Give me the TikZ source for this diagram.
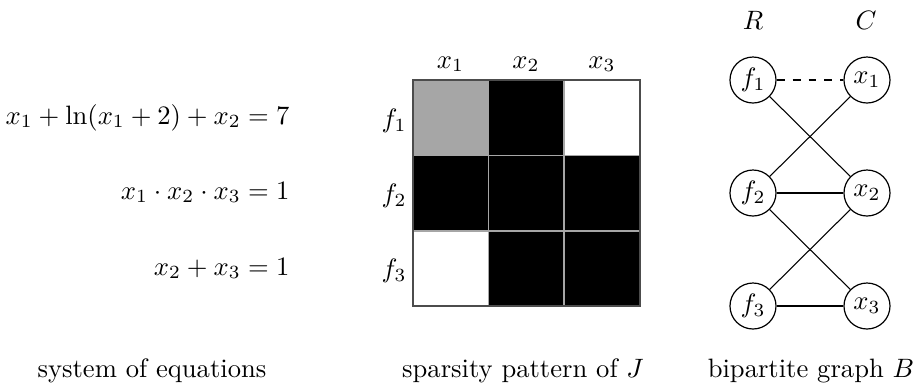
\documentclass[tikz,border=0pt]{standalone}
\usetikzlibrary{positioning}
\begin{document}
\begin{tikzpicture}[x=0.376pt,y=-0.376pt,
  vert/.style={draw,circle,minimum size=17.3pt,inner sep=0pt,line width=0.45pt},
  edge/.style={line width=0.4pt},
  cellgray/.style={fill=black!35},
  cellblack/.style={fill=black},
  cellwhite/.style={fill=white},
  captext/.style={anchor=base}]
\useasboundingbox (0,0) rectangle (914,388);
% equations
\node[anchor=base east,inner sep=0pt] (e1) at (290,124) {$x_1+\ln(x_1+2)+x_2=7$};
\node[anchor=base east,inner sep=0pt] (e2) at (290,199) {$x_1\cdot x_2\cdot x_3=1$};
\node[anchor=base east,inner sep=0pt] (e3) at (290,275) {$x_2+x_3=1$};
% matrix
\fill[cellgray] (413,80) rectangle (488.5,155.5);
\fill[cellblack] (488.5,80) rectangle (564,155.5);
\fill[cellwhite] (564,80) rectangle (640,155.5);
\fill[cellblack] (413,155.5) rectangle (640,231);
\fill[cellwhite] (413,231) rectangle (488.5,306);
\fill[cellblack] (488.5,231) rectangle (640,306);
\draw[black!35,line width=0.5pt] (488.5,80) -- (488.5,306) (564,80) -- (564,306)
  (413,155.5) -- (640,155.5) (413,231) -- (640,231);
\draw[black!70,line width=0.5pt] (413,80) rectangle (640,306);
\node[anchor=base] (c1) at (450.5,68) {$x_1$};
\node[anchor=base] (c2) at (526,68) {$x_2$};
\node[anchor=base] (c3) at (602,68) {$x_3$};
\node (r1) at (394,121) {$f_1$};
\node (r2) at (394,196) {$f_2$};
\node (r3) at (394,271) {$f_3$};
% bipartite graph
\node (R) at (753,20) {$R$};
\node (C) at (866,20) {$C$};
\node[vert] (f1) at (753,80) {$f_1$};
\node[vert] (x1) at (867,80) {$x_1$};
\node[vert] (f2) at (753,193) {$f_2$};
\node[vert] (x2) at (867,193) {$x_2$};
\node[vert] (f3) at (753,306) {$f_3$};
\node[vert] (x3) at (867,306) {$x_3$};
\draw[edge,dashed] (f1) -- (x1);
\draw[edge] (f1) -- (x2);
\draw[edge] (x1) -- (f2);
\draw[edge] (f2) -- (x2);
\draw[edge] (f2) -- (x3);
\draw[edge] (x2) -- (f3);
\draw[edge] (f3) -- (x3);
% captions
\node[captext,inner sep=0pt] (t1) at (152,377) {system of equations};
\node[captext,inner sep=0pt] (t2) at (523,377) {sparsity pattern of $J$};
\node[captext,inner sep=0pt] (t3) at (811,377) {bipartite graph $B$};
\end{tikzpicture}
\end{document}
